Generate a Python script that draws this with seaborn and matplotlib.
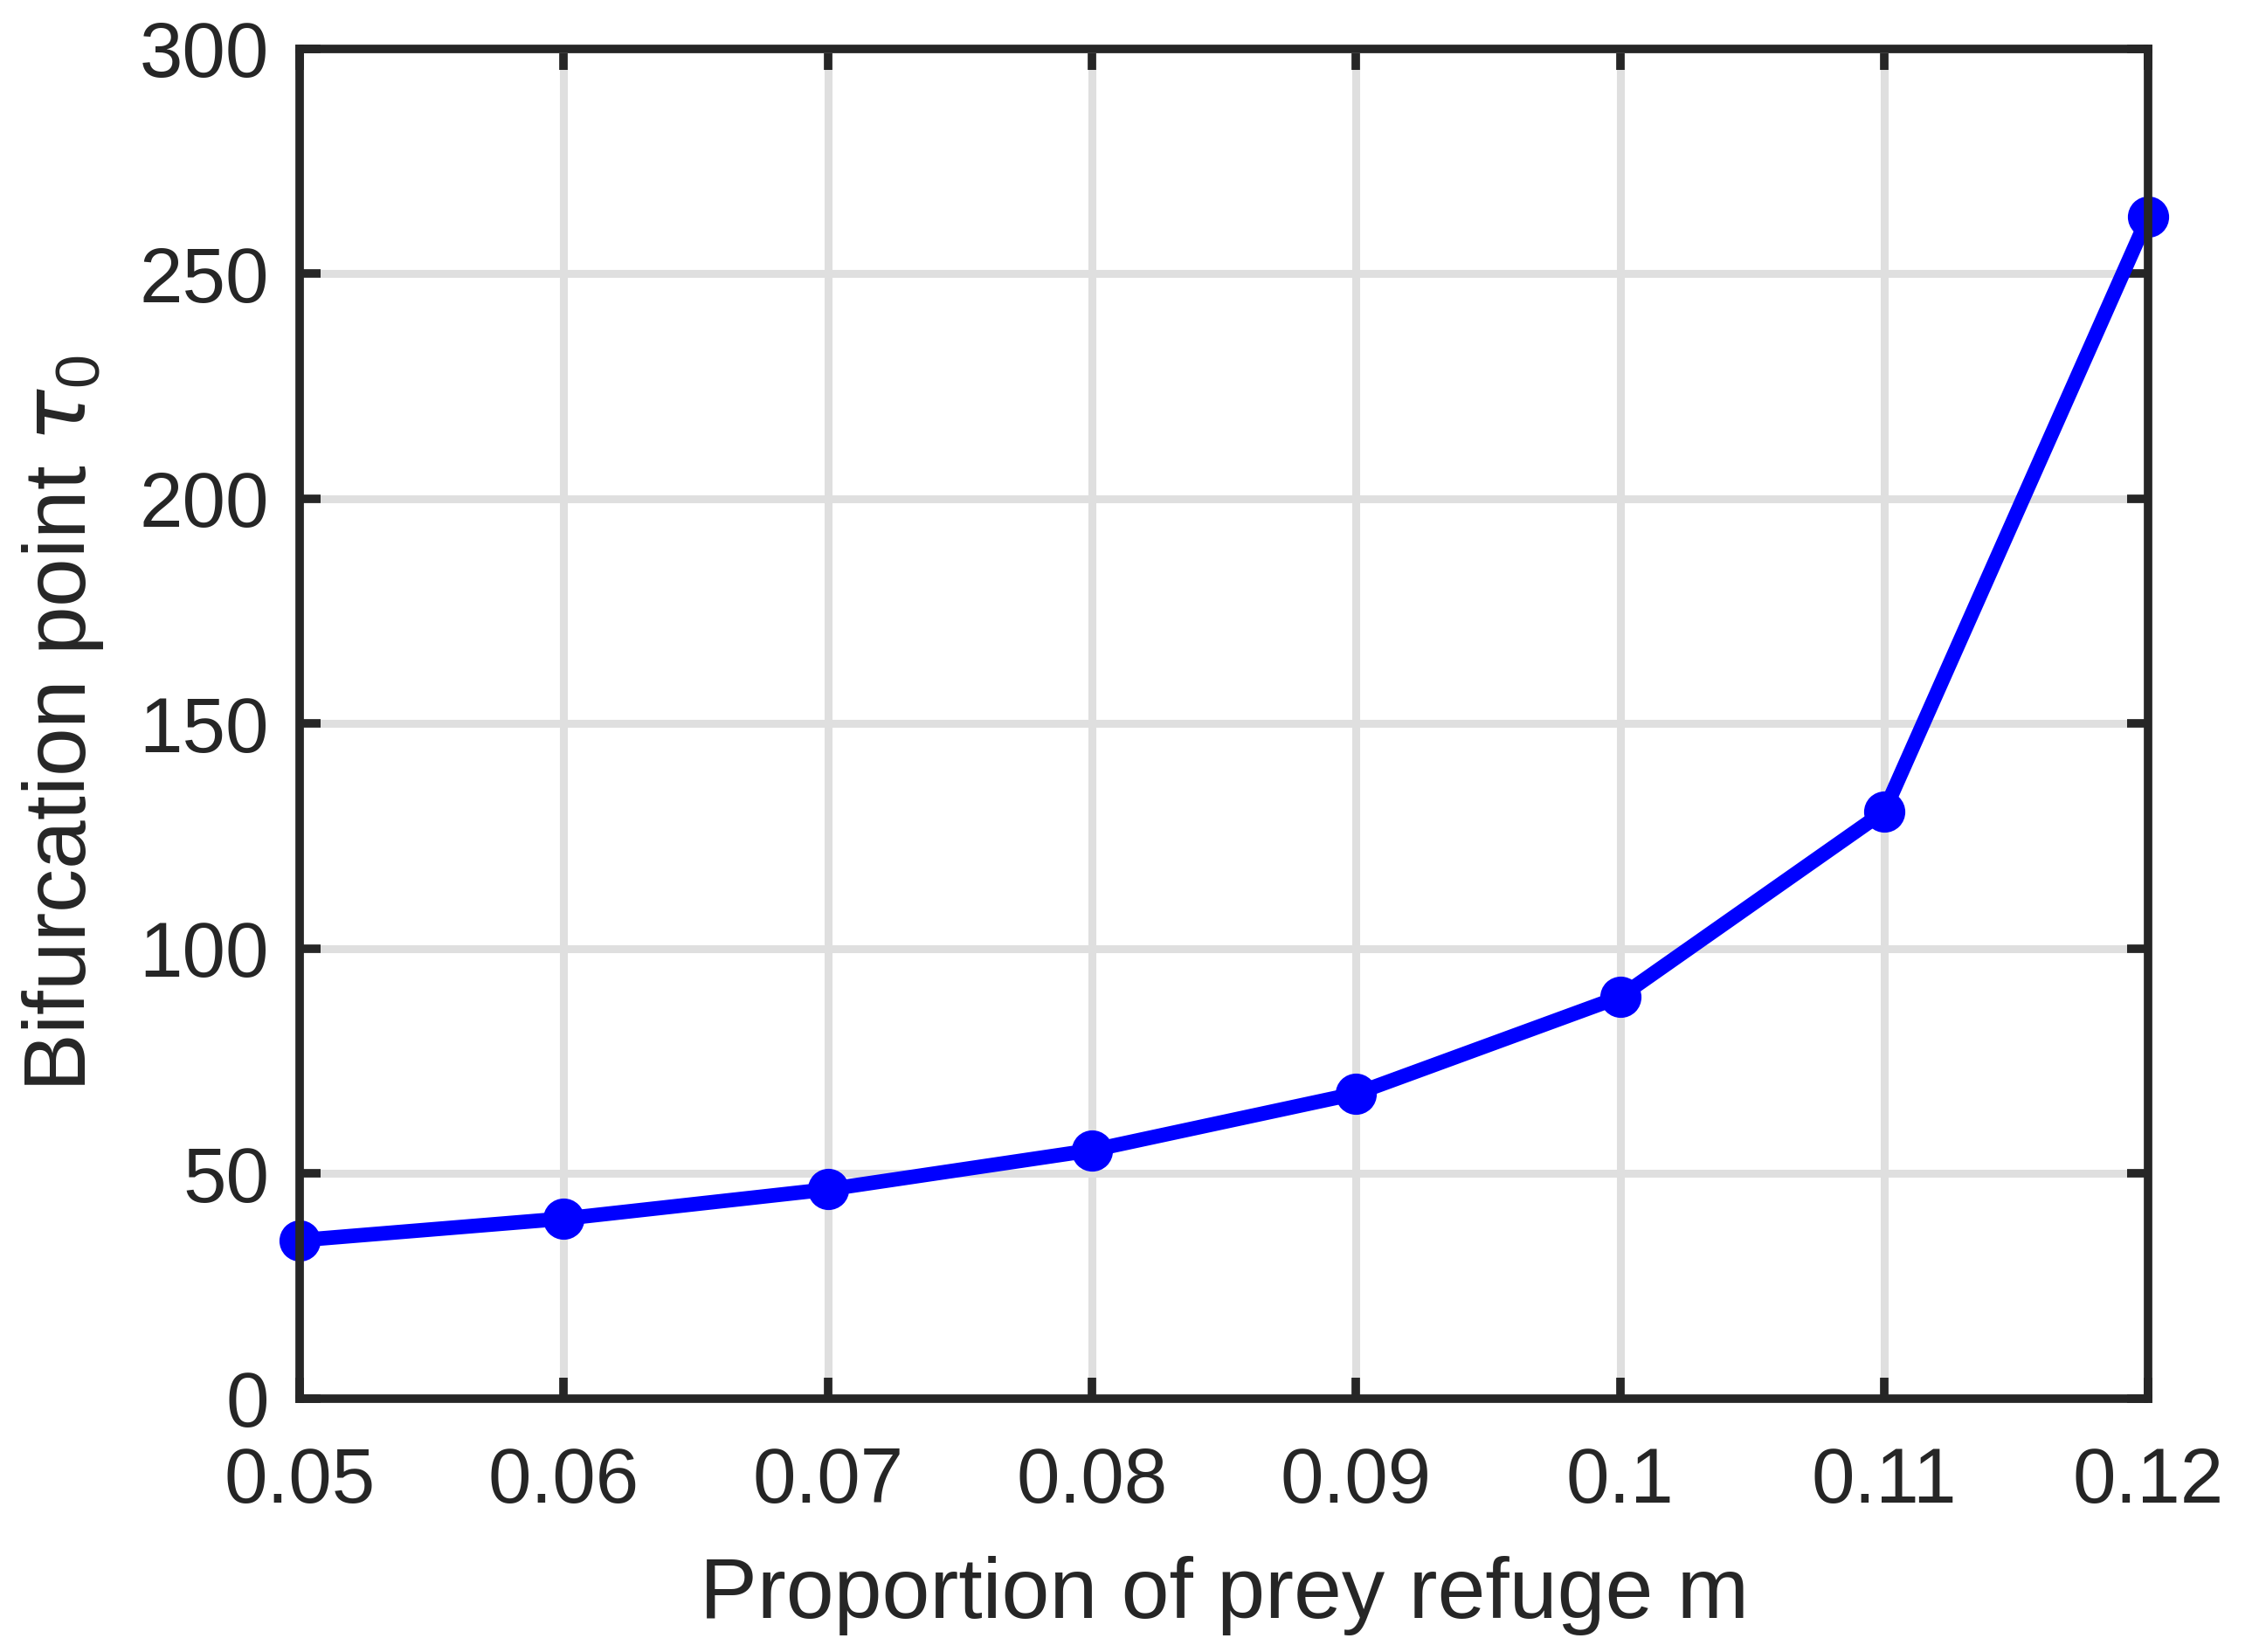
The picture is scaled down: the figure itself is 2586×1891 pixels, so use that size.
import matplotlib
matplotlib.use("Agg")
import matplotlib.pyplot as plt
import seaborn as sns
import pandas as pd

# Data
refuge_m = [0.05, 0.06, 0.07, 0.08, 0.09, 0.10, 0.11, 0.12]
tau0 = [35.2, 40.0, 46.5, 55.2, 67.8, 89.3, 130.5, 262.8]
x_ticks = [0.05, 0.06, 0.07, 0.08, 0.09, 0.10, 0.11, 0.12]
x_tick_labels = ["0.05", "0.06", "0.07", "0.08", "0.09", "0.1", "0.11", "0.12"]
y_ticks = [0, 50, 100, 150, 200, 250, 300]

df = pd.DataFrame({"m": refuge_m, "tau": tau0})

sns.set_theme(style="ticks")
plt.rcParams["font.family"] = ["Liberation Sans", "DejaVu Sans"]
plt.rcParams["mathtext.fontset"] = "custom"
plt.rcParams["mathtext.it"] = "DejaVu Sans:italic"
plt.rcParams["mathtext.rm"] = "Liberation Sans"

fig = plt.figure(figsize=(25.86, 18.91), dpi=100)
ax = fig.add_axes([0.1326, 0.1534, 0.951 - 0.1326, 0.9704 - 0.1534])

sns.lineplot(data=df, x="m", y="tau", ax=ax, color="#0000FF", linewidth=12,
             marker="o", markersize=34, markeredgecolor="#0000FF",
             markeredgewidth=0, markerfacecolor="#0000FF", clip_on=False, zorder=5)

ax.set_xlim(0.05, 0.12)
ax.set_ylim(0, 300)
ax.set_xticks(x_ticks)
ax.set_xticklabels(x_tick_labels)
ax.set_yticks(y_ticks)

ax.grid(True, color="#DFDFDF", linewidth=6.5)
ax.set_axisbelow(True)

dark = "#262626"
for s in ax.spines.values():
    s.set_visible(True)
    s.set_color(dark)
    s.set_linewidth(7)
    s.set_zorder(6)

ax.tick_params(axis="both", which="major", direction="in", length=17, width=7,
               color=dark, labelcolor=dark, labelsize=64,
               top=True, right=True)
ax.tick_params(axis="x", pad=39)
ax.tick_params(axis="y", pad=25)

ax.set_xlabel("Proportion of prey refuge m", fontsize=71, color=dark, labelpad=30)
ax.set_ylabel(r"Bifurcation point $\tau_0$", fontsize=72, color=dark, labelpad=28)

fig.savefig("out.png", dpi=100, facecolor="white")
